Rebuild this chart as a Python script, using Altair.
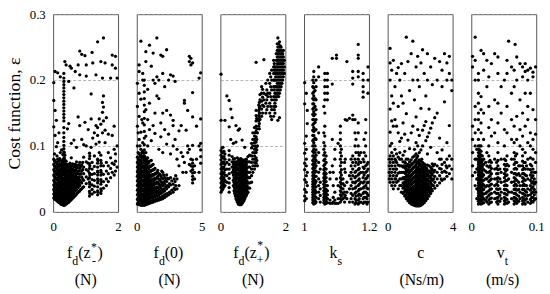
import altair as alt
import pandas as pd

FONT = "Liberation Serif, Times New Roman, serif"

# ---------------- data: (x value, [cost-function values]) ----------------
fdzm_groups = [
    (0.02, [0.021, 0.027, 0.034, 0.041, 0.048, 0.056, 0.064, 0.072, 0.08, 0.129, 0.169, 0.196]),
    (0.06, [0.019, 0.025, 0.031, 0.038, 0.045, 0.053, 0.061, 0.069, 0.077, 0.116, 0.154, 0.213]),
    (0.1, [0.018, 0.023, 0.029, 0.036, 0.043, 0.051, 0.059, 0.067, 0.075, 0.099, 0.139]),
    (0.14, [0.016, 0.021, 0.027, 0.033, 0.04, 0.048, 0.056, 0.063, 0.071, 0.08, 0.105, 0.211]),
    (0.18, [0.015, 0.02, 0.025, 0.031, 0.038, 0.045, 0.053, 0.06, 0.068, 0.077, 0.12]),
    (0.22, [0.013, 0.018, 0.023, 0.029, 0.036, 0.043, 0.05, 0.058, 0.065, 0.073, 0.09, 0.205]),
    (0.26, [0.012, 0.016, 0.021, 0.027, 0.033, 0.04, 0.047, 0.055, 0.062, 0.07, 0.078, 0.094]),
    (0.3, [0.011, 0.015, 0.019, 0.024, 0.03, 0.036, 0.043, 0.05, 0.057, 0.064, 0.071, 0.079, 0.087]),
    (0.33, [0.01, 0.013, 0.017, 0.021, 0.026, 0.031, 0.036, 0.041, 0.046, 0.051, 0.056, 0.061,
            0.066, 0.071, 0.076, 0.081, 0.086, 0.091, 0.096, 0.101, 0.107, 0.113, 0.12, 0.128,
            0.138, 0.143, 0.148, 0.153, 0.158, 0.163, 0.168, 0.173, 0.178, 0.183, 0.188, 0.193,
            0.198, 0.203, 0.21]),
    (0.36, [0.011, 0.014, 0.018, 0.023, 0.029, 0.035, 0.042, 0.049, 0.056, 0.063, 0.07, 0.078, 0.086, 0.228]),
    (0.4, [0.012, 0.016, 0.021, 0.027, 0.033, 0.04, 0.047, 0.054, 0.061, 0.069, 0.077, 0.223]),
    (0.44, [0.014, 0.018, 0.023, 0.029, 0.035, 0.042, 0.049, 0.057, 0.064, 0.072, 0.126]),
    (0.48, [0.015, 0.02, 0.026, 0.032, 0.039, 0.046, 0.053, 0.061, 0.069, 0.134, 0.198]),
    (0.52, [0.017, 0.022, 0.028, 0.035, 0.042, 0.05, 0.058, 0.066, 0.074, 0.221]),
    (0.56, [0.019, 0.025, 0.031, 0.038, 0.046, 0.054, 0.062, 0.07, 0.082, 0.104, 0.218]),
    (0.6, [0.021, 0.027, 0.034, 0.041, 0.049, 0.057, 0.065, 0.073]),
    (0.64, [0.023, 0.029, 0.036, 0.044, 0.052, 0.06, 0.068, 0.109, 0.188]),
    (0.68, [0.025, 0.032, 0.039, 0.047, 0.055, 0.063, 0.072, 0.213]),
    (0.72, [0.027, 0.034, 0.042, 0.05, 0.058, 0.067, 0.076, 0.098]),
    (0.77, [0.03, 0.037, 0.045, 0.053, 0.062, 0.071, 0.144, 0.223]),
    (0.82, [0.032, 0.04, 0.048, 0.057, 0.066, 0.075, 0.131, 0.208, 0.244]),
    (0.88, [0.035, 0.044, 0.053, 0.062, 0.071, 0.11, 0.239]),
    (0.94, [0.038, 0.048, 0.058, 0.068, 0.083, 0.102]),
    (0.98, [0.237, 0.136]),
    (1.02, [0.043, 0.053, 0.064, 0.076, 0.206, 0.223, 0.1]),
    (1.08, [0.05, 0.062, 0.074, 0.125]),
    (1.12, [0.024, 0.031, 0.038, 0.045, 0.052, 0.059, 0.066, 0.073, 0.081, 0.089]),
    (1.17, [0.141, 0.179, 0.098]),
    (1.2, [0.027, 0.034, 0.041, 0.049, 0.057, 0.065, 0.075, 0.242]),
    (1.22, [0.226, 0.112]),
    (1.27, [0.03, 0.039, 0.048, 0.058, 0.069, 0.085, 0.12]),
    (1.32, [0.208, 0.131, 0.103]),
    (1.37, [0.026, 0.032, 0.038, 0.044, 0.05, 0.056, 0.062, 0.068, 0.074, 0.08, 0.258, 0.116, 0.128]),
    (1.42, [0.141, 0.106, 0.09]),
    (1.47, [0.028, 0.035, 0.042, 0.049, 0.056, 0.063, 0.07, 0.078, 0.086, 0.228, 0.133]),
    (1.52, [0.203, 0.151, 0.166, 0.12]),
    (1.55, [0.036, 0.046, 0.057, 0.07, 0.264, 0.159, 0.176, 0.138]),
    (1.6, [0.226, 0.124, 0.105]),
    (1.64, [0.04, 0.05, 0.062, 0.075, 0.143]),
    (1.7, [0.046, 0.058, 0.07, 0.118, 0.09]),
    (1.77, [0.203, 0.052, 0.066, 0.082]),
    (1.82, [0.238, 0.223, 0.116, 0.06, 0.074]),
    (1.88, [0.056, 0.072, 0.095, 0.13]),
    (1.92, [0.236, 0.218, 0.077, 0.062, 0.088]),
    (1.97, [0.203, 0.068, 0.1]),
]
fdzm_more = [
    (0.04, [0.024, 0.031, 0.038, 0.046, 0.054, 0.062, 0.07, 0.078, 0.088]),
    (0.08, [0.02, 0.028, 0.035, 0.043, 0.051, 0.059, 0.067, 0.075]),
    (0.12, [0.017, 0.026, 0.033, 0.041, 0.049, 0.057, 0.065, 0.073, 0.085]),
    (0.16, [0.015, 0.023, 0.03, 0.037, 0.045, 0.052, 0.06, 0.069, 0.077]),
    (0.2, [0.014, 0.021, 0.028, 0.035, 0.042, 0.05, 0.057, 0.064, 0.072, 0.081]),
    (0.24, [0.012, 0.019, 0.026, 0.033, 0.04, 0.047, 0.054, 0.062, 0.07]),
    (0.28, [0.011, 0.017, 0.024, 0.031, 0.038, 0.045, 0.052, 0.06, 0.067, 0.075]),
    (0.345, [0.01, 0.016, 0.022, 0.029, 0.036, 0.043, 0.05, 0.058, 0.066, 0.074, 0.082, 0.09]),
    (0.38, [0.012, 0.017, 0.024, 0.031, 0.038, 0.045, 0.052, 0.059, 0.066, 0.073]),
    (0.42, [0.013, 0.019, 0.026, 0.033, 0.04, 0.047, 0.055, 0.063, 0.07]),
    (0.46, [0.014, 0.021, 0.028, 0.036, 0.044, 0.052, 0.06, 0.068]),
    (0.5, [0.016, 0.024, 0.031, 0.039, 0.047, 0.055, 0.063, 0.072]),
    (0.54, [0.018, 0.026, 0.034, 0.042, 0.05, 0.058, 0.066]),
    (0.58, [0.02, 0.028, 0.037, 0.045, 0.053, 0.061, 0.07]),
    (0.62, [0.022, 0.031, 0.039, 0.047, 0.056, 0.064]),
    (0.66, [0.024, 0.033, 0.042, 0.051, 0.06, 0.069]),
    (0.7, [0.026, 0.036, 0.045, 0.054, 0.063, 0.071]),
    (0.75, [0.029, 0.039, 0.049, 0.058, 0.067]),
    (0.8, [0.031, 0.042, 0.052, 0.062, 0.071]),
    (0.85, [0.034, 0.046, 0.058, 0.069]),
    (0.91, [0.037, 0.05, 0.064, 0.075]),
    (1.13, [0.028, 0.042, 0.056, 0.07, 0.085]),
    (1.38, [0.03, 0.047, 0.06, 0.078]),
    (1.48, [0.032, 0.046, 0.06, 0.074]),
]

fd0_groups = [
    (0.05, [0.012, 0.019, 0.026, 0.033, 0.04, 0.047, 0.054, 0.061, 0.068, 0.075, 0.083, 0.1, 0.13, 0.16, 0.195]),
    (0.18, [0.011, 0.017, 0.024, 0.031, 0.038, 0.045, 0.052, 0.059, 0.066, 0.073, 0.08, 0.088, 0.11, 0.145, 0.18, 0.223, 0.213]),
    (0.32, [0.01, 0.016, 0.022, 0.029, 0.036, 0.043, 0.05, 0.057, 0.064, 0.071, 0.078, 0.086, 0.095, 0.121, 0.171, 0.259]),
    (0.46, [0.01, 0.015, 0.021, 0.027, 0.034, 0.041, 0.048, 0.055, 0.062, 0.069, 0.076, 0.084, 0.092, 0.105, 0.135, 0.2, 0.21]),
    (0.58, [0.01, 0.016, 0.022, 0.028, 0.035, 0.042, 0.049, 0.056, 0.063, 0.07, 0.077, 0.085, 0.094, 0.102,
            0.112, 0.122, 0.132, 0.142, 0.152, 0.162, 0.172, 0.182, 0.192, 0.2]),
    (0.7, [0.011, 0.017, 0.023, 0.03, 0.037, 0.044, 0.051, 0.058, 0.065, 0.072, 0.08, 0.09, 0.115, 0.155, 0.228, 0.243]),
    (0.84, [0.012, 0.018, 0.025, 0.032, 0.039, 0.046, 0.053, 0.06, 0.067, 0.074, 0.082, 0.1, 0.14, 0.186]),
    (0.98, [0.013, 0.02, 0.027, 0.034, 0.041, 0.048, 0.055, 0.062, 0.069, 0.077, 0.125, 0.165, 0.253]),
    (1.12, [0.014, 0.021, 0.028, 0.035, 0.042, 0.049, 0.056, 0.063, 0.07, 0.078, 0.108, 0.221]),
    (1.26, [0.015, 0.022, 0.029, 0.036, 0.043, 0.05, 0.057, 0.064, 0.072, 0.131, 0.241, 0.2]),
    (1.4, [0.016, 0.023, 0.03, 0.037, 0.044, 0.051, 0.058, 0.066, 0.119, 0.15, 0.195]),
    (1.55, [0.017, 0.024, 0.031, 0.038, 0.045, 0.052, 0.06, 0.264, 0.176, 0.205]),
    (1.7, [0.018, 0.026, 0.034, 0.042, 0.05, 0.058, 0.172, 0.2, 0.095]),
    (1.85, [0.019, 0.028, 0.037, 0.046, 0.055, 0.238, 0.114, 0.135]),
    (2.0, [0.02, 0.03, 0.04, 0.05, 0.06, 0.236, 0.21, 0.15, 0.09]),
    (2.15, [0.022, 0.032, 0.042, 0.052, 0.19, 0.125]),
    (2.3, [0.024, 0.035, 0.046, 0.056, 0.246, 0.154, 0.103]),
    (2.45, [0.026, 0.038, 0.05, 0.118, 0.2]),
    (2.6, [0.028, 0.041, 0.052, 0.208, 0.147, 0.088]),
    (2.8, [0.03, 0.042, 0.206, 0.139, 0.131, 0.1]),
    (2.95, [0.034, 0.046, 0.198, 0.11]),
    (3.1, [0.035, 0.05, 0.095, 0.08]),
    (3.25, [0.04, 0.123, 0.07]),
    (3.42, [0.131, 0.09]),
    (3.55, [0.084, 0.06]),
    (3.67, [0.169, 0.165, 0.075]),
    (3.8, [0.124, 0.06]),
    (3.92, [0.154, 0.09, 0.1]),
    (4.05, [0.236, 0.228, 0.095, 0.072]),
    (4.17, [0.223, 0.233, 0.08, 0.07, 0.062]),
    (4.3, [0.226, 0.181, 0.144, 0.101, 0.079, 0.074, 0.069, 0.064, 0.059, 0.054, 0.049, 0.044]),
    (4.45, [0.06, 0.05, 0.07]),
    (4.6, [0.08, 0.13]),
    (4.8, [0.203, 0.1, 0.06]),
    (4.92, [0.211, 0.141, 0.104, 0.094, 0.084, 0.074]),
]
fd0_more = [
    (0.11, [0.014, 0.021, 0.028, 0.035, 0.042, 0.05, 0.057, 0.064, 0.071, 0.079, 0.09, 0.12]),
    (0.25, [0.012, 0.019, 0.026, 0.033, 0.04, 0.047, 0.054, 0.061, 0.068, 0.076, 0.084, 0.1]),
    (0.39, [0.012, 0.018, 0.025, 0.032, 0.039, 0.046, 0.053, 0.06, 0.067, 0.074, 0.082, 0.09, 0.14]),
    (0.52, [0.013, 0.019, 0.025, 0.032, 0.039, 0.046, 0.053, 0.06, 0.067, 0.074, 0.081, 0.089]),
    (0.64, [0.013, 0.02, 0.026, 0.033, 0.04, 0.047, 0.054, 0.061, 0.068, 0.075, 0.083]),
    (0.77, [0.014, 0.02, 0.027, 0.034, 0.041, 0.048, 0.055, 0.062, 0.07, 0.078]),
    (0.91, [0.015, 0.022, 0.029, 0.036, 0.043, 0.05, 0.058, 0.066, 0.074]),
    (1.05, [0.016, 0.024, 0.031, 0.038, 0.045, 0.053, 0.061, 0.069]),
    (1.19, [0.017, 0.025, 0.032, 0.04, 0.047, 0.055, 0.063, 0.071]),
    (1.33, [0.018, 0.026, 0.033, 0.041, 0.048, 0.056, 0.064]),
    (1.47, [0.019, 0.027, 0.035, 0.043, 0.05, 0.058]),
    (1.62, [0.02, 0.029, 0.037, 0.045, 0.054, 0.063]),
    (1.77, [0.022, 0.031, 0.04, 0.049, 0.057]),
    (1.92, [0.023, 0.033, 0.042, 0.052, 0.062]),
    (2.07, [0.025, 0.035, 0.045, 0.056]),
    (2.22, [0.027, 0.038, 0.048]),
    (2.37, [0.028, 0.04, 0.051]),
    (2.52, [0.03, 0.043]),
    (2.7, [0.033, 0.047]),
    (2.88, [0.036, 0.05]),
    (3.0, [0.04, 0.055]),
]

fdzp_groups = [
    (0.02, [0.03, 0.037, 0.044, 0.051, 0.058, 0.065, 0.072, 0.079, 0.086, 0.093, 0.209, 0.139]),
    (0.08, [0.035, 0.042, 0.05, 0.058, 0.066, 0.074, 0.082, 0.09, 0.098]),
    (0.14, [0.04, 0.048, 0.056, 0.064, 0.072, 0.08, 0.088, 0.139]),
    (0.2, [0.045, 0.055, 0.065, 0.075, 0.176]),
    (0.27, [0.03, 0.037, 0.044, 0.051, 0.058, 0.065, 0.072, 0.079, 0.086, 0.093, 0.129, 0.169]),
    (0.32, [0.156, 0.11]),
    (0.36, [0.06, 0.068, 0.076, 0.084, 0.143]),
    (0.4, [0.04, 0.048, 0.056, 0.064, 0.072, 0.08, 0.104]),
    (0.44, [0.028, 0.035, 0.042, 0.049, 0.057, 0.065, 0.073, 0.081]),
    (0.48, [0.02, 0.026, 0.032, 0.039, 0.046, 0.053, 0.06, 0.068, 0.076, 0.106, 0.131]),
    (0.52, [0.015, 0.02, 0.026, 0.032, 0.038, 0.045, 0.052, 0.059, 0.066, 0.074, 0.082]),
    (0.55, [0.012, 0.016, 0.021, 0.026, 0.032, 0.038, 0.044, 0.05, 0.057, 0.064, 0.071, 0.078, 0.124]),
    (0.59, [0.011, 0.014, 0.018, 0.023, 0.028, 0.034, 0.04, 0.046, 0.052, 0.059, 0.066, 0.073, 0.08, 0.126]),
    (0.63, [0.011, 0.015, 0.019, 0.024, 0.029, 0.035, 0.041, 0.047, 0.053, 0.06, 0.067, 0.074, 0.081]),
    (0.67, [0.013, 0.017, 0.022, 0.027, 0.033, 0.039, 0.045, 0.051, 0.058, 0.065, 0.072, 0.079, 0.109]),
    (0.71, [0.016, 0.021, 0.026, 0.032, 0.038, 0.044, 0.05, 0.057, 0.064, 0.071, 0.078]),
    (0.75, [0.02, 0.025, 0.031, 0.037, 0.043, 0.05, 0.057, 0.064, 0.071, 0.079, 0.098]),
    (0.8, [0.025, 0.031, 0.037, 0.044, 0.051, 0.058, 0.065, 0.072, 0.08]),
    (0.85, [0.03, 0.037, 0.044, 0.052, 0.06, 0.068, 0.076, 0.084]),
    (0.9, [0.036, 0.044, 0.052, 0.06, 0.068, 0.076, 0.086]),
    (0.96, [0.045, 0.055, 0.065, 0.075, 0.085, 0.097, 0.104]),
    (1.0, [0.06, 0.07, 0.08, 0.09, 0.1, 0.11, 0.12]),
    (1.05, [0.065, 0.075, 0.085, 0.095, 0.105, 0.115, 0.128]),
    (1.1, [0.074, 0.082, 0.09, 0.098, 0.106, 0.114, 0.122, 0.13, 0.138, 0.146, 0.154, 0.227]),
    (1.14, [0.07, 0.1, 0.12, 0.14]),
    (1.18, [0.13, 0.138, 0.146, 0.154, 0.162]),
    (1.22, [0.14, 0.15, 0.16, 0.17, 0.178]),
    (1.27, [0.145, 0.156, 0.168, 0.18, 0.19]),
    (1.34, [0.231, 0.16, 0.17, 0.18]),
    (1.4, [0.15, 0.165, 0.178, 0.195]),
    (1.46, [0.16, 0.18, 0.2, 0.175]),
    (1.52, [0.15, 0.165, 0.18, 0.195, 0.21]),
    (1.58, [0.14, 0.155, 0.17, 0.185, 0.2, 0.215]),
    (1.64, [0.145, 0.16, 0.175, 0.19, 0.2, 0.21, 0.22, 0.23]),
    (1.68, [0.15, 0.165, 0.18, 0.19, 0.2, 0.21, 0.22]),
    (1.72, [0.17, 0.18, 0.19, 0.2, 0.21, 0.22, 0.23, 0.24]),
    (1.77, [0.139, 0.18, 0.19, 0.2, 0.21, 0.22, 0.23, 0.24, 0.25, 0.264]),
    (1.82, [0.143, 0.18, 0.19, 0.2, 0.21, 0.22, 0.23, 0.24, 0.25, 0.258]),
    (1.87, [0.19, 0.2, 0.21, 0.22, 0.23, 0.24, 0.25]),
    (1.92, [0.2, 0.21, 0.22, 0.23, 0.24]),
    (1.97, [0.21, 0.22, 0.23]),
]
fdzp_more = [
    (0.05, [0.033, 0.04, 0.047, 0.054, 0.061, 0.068, 0.075, 0.083, 0.09, 0.097]),
    (0.11, [0.038, 0.045, 0.052, 0.06, 0.068, 0.076, 0.084, 0.092]),
    (0.42, [0.032, 0.038, 0.045, 0.052, 0.06, 0.068, 0.076]),
    (0.46, [0.024, 0.03, 0.036, 0.043, 0.05, 0.057, 0.064, 0.072]),
    (0.5, [0.018, 0.024, 0.03, 0.036, 0.043, 0.05, 0.057, 0.064, 0.072]),
    (0.57, [0.013, 0.018, 0.024, 0.03, 0.036, 0.042, 0.049, 0.056, 0.063, 0.07, 0.077]),
    (0.61, [0.012, 0.016, 0.021, 0.026, 0.032, 0.038, 0.044, 0.05, 0.056, 0.063, 0.07, 0.077]),
    (0.65, [0.012, 0.017, 0.022, 0.027, 0.032, 0.038, 0.044, 0.05, 0.057, 0.064, 0.071, 0.078]),
    (0.69, [0.015, 0.02, 0.025, 0.031, 0.037, 0.043, 0.049, 0.055, 0.062, 0.069, 0.076]),
    (0.73, [0.018, 0.023, 0.029, 0.035, 0.041, 0.047, 0.054, 0.061, 0.068, 0.075]),
    (0.77, [0.023, 0.028, 0.034, 0.04, 0.047, 0.054, 0.061, 0.068, 0.076]),
    (0.82, [0.028, 0.034, 0.04, 0.047, 0.054, 0.061, 0.068, 0.076]),
    (1.07, [0.07, 0.08, 0.09, 0.1, 0.11, 0.12]),
    (1.12, [0.078, 0.094, 0.11, 0.126, 0.142]),
    (1.2, [0.126, 0.134, 0.142, 0.15, 0.158, 0.166]),
    (1.3, [0.15, 0.162, 0.174, 0.186]),
    (1.43, [0.155, 0.17, 0.185]),
    (1.55, [0.145, 0.16, 0.175, 0.19, 0.205]),
    (1.66, [0.155, 0.17, 0.185, 0.2, 0.215, 0.225]),
    (1.7, [0.16, 0.175, 0.19, 0.205, 0.215]),
    (1.75, [0.175, 0.185, 0.195, 0.205, 0.215, 0.225, 0.235, 0.245, 0.255]),
    (1.795, [0.175, 0.185, 0.195, 0.205, 0.215, 0.225, 0.235, 0.245, 0.255]),
    (1.845, [0.185, 0.195, 0.205, 0.215, 0.225, 0.235, 0.245, 0.252]),
    (1.895, [0.195, 0.205, 0.215, 0.225, 0.235, 0.245]),
    (1.94, [0.205, 0.215, 0.225, 0.235, 0.245]),
]

ks_groups = [
    (1.002, [0.017, 0.024, 0.034, 0.049, 0.064, 0.074, 0.089, 0.104, 0.164, 0.196]),
    (1.01, [0.154, 0.134, 0.06, 0.04]),
    (1.03, [0.012, 0.016, 0.02, 0.024, 0.028, 0.032, 0.036, 0.04, 0.044, 0.048, 0.052, 0.056, 0.06,
            0.064, 0.068, 0.072, 0.076, 0.08, 0.085, 0.09, 0.095, 0.1, 0.105, 0.11, 0.116, 0.122,
            0.128, 0.134, 0.14, 0.146, 0.152, 0.158, 0.164, 0.17, 0.176, 0.182, 0.188, 0.196, 0.205, 0.213]),
    (1.037, [0.015, 0.022, 0.03, 0.038, 0.046, 0.054, 0.062, 0.07, 0.078, 0.086, 0.094, 0.11, 0.125, 0.14, 0.155, 0.17, 0.19, 0.2]),
    (1.045, [0.02, 0.03, 0.04, 0.05, 0.06, 0.075, 0.09, 0.12, 0.205, 0.22]),
    (1.064, [0.012, 0.016, 0.02, 0.025, 0.03, 0.035, 0.04, 0.045, 0.05, 0.055, 0.06, 0.066, 0.072,
             0.08, 0.09, 0.1, 0.115, 0.13, 0.15, 0.17, 0.18, 0.19, 0.2, 0.21]),
    (1.072, [0.014, 0.02, 0.026, 0.032, 0.04, 0.17, 0.18, 0.19, 0.2, 0.21]),
    (1.08, [0.013, 0.018, 0.05, 0.06]),
    (1.087, [0.013, 0.233, 0.194, 0.11, 0.07]),
    (1.095, [0.013, 0.018, 0.03, 0.08, 0.095]),
    (1.1, [0.013, 0.238, 0.233, 0.05]),
    (1.105, [0.013, 0.02, 0.04, 0.104]),
    (1.112, [0.015, 0.02, 0.026, 0.032, 0.038, 0.045, 0.052, 0.06, 0.07, 0.08, 0.09, 0.1, 0.11, 0.12, 0.13]),
    (1.12, [0.02, 0.027, 0.035, 0.043, 0.05]),
    (1.127, [0.025, 0.06, 0.08, 0.14]),
    (1.132, [0.228, 0.139, 0.02, 0.03, 0.045]),
    (1.14, [0.142, 0.015, 0.035, 0.055]),
    (1.15, [0.213, 0.203, 0.194, 0.147, 0.14, 0.015, 0.025, 0.035, 0.045, 0.055, 0.065, 0.075, 0.085]),
    (1.157, [0.012, 0.02, 0.028, 0.036, 0.044, 0.052, 0.06, 0.07, 0.08, 0.1, 0.12, 0.14]),
    (1.167, [0.254, 0.238, 0.233, 0.213, 0.205, 0.012, 0.018, 0.025, 0.032, 0.04, 0.048, 0.056,
             0.064, 0.072, 0.08, 0.09, 0.1, 0.12, 0.135]),
    (1.175, [0.015, 0.025, 0.035, 0.045, 0.06, 0.075, 0.09]),
    (1.182, [0.21, 0.2, 0.19, 0.182, 0.174, 0.013, 0.02, 0.028, 0.036, 0.044, 0.052, 0.06, 0.068, 0.08]),
    (1.19, [0.015, 0.022, 0.03, 0.04, 0.05, 0.06, 0.07, 0.085, 0.1, 0.12, 0.14]),
    (1.197, [0.015, 0.025, 0.035, 0.045, 0.055, 0.065, 0.075, 0.2, 0.22, 0.18]),
]
ks_more = [
    (1.007, [0.02, 0.03, 0.045, 0.055, 0.07, 0.08, 0.095, 0.115, 0.18]),
    (1.027, [0.014, 0.018, 0.022, 0.026, 0.03, 0.034, 0.038, 0.042, 0.046, 0.05, 0.055, 0.06, 0.066,
             0.072, 0.078, 0.085, 0.092, 0.1, 0.108, 0.116, 0.124, 0.132, 0.14, 0.148, 0.156, 0.164,
             0.172, 0.18, 0.19, 0.2]),
    (1.034, [0.013, 0.018, 0.023, 0.028, 0.033, 0.038, 0.043, 0.048, 0.054, 0.06, 0.067, 0.074,
             0.082, 0.09, 0.1, 0.112, 0.124, 0.136, 0.148, 0.16, 0.172, 0.184]),
    (1.05, [0.015, 0.025, 0.035, 0.045, 0.065]),
    (1.061, [0.014, 0.018, 0.022, 0.027, 0.032, 0.037, 0.042, 0.047, 0.052, 0.058, 0.064, 0.07,
             0.078, 0.086, 0.095, 0.105, 0.12, 0.16]),
    (1.068, [0.013, 0.017, 0.022, 0.028, 0.034, 0.04, 0.046, 0.052, 0.058, 0.065, 0.075, 0.085]),
    (1.09, [0.015, 0.022, 0.04, 0.06]),
    (1.115, [0.018, 0.024, 0.03, 0.036, 0.042, 0.049, 0.056, 0.064, 0.075, 0.085, 0.095]),
    (1.125, [0.015, 0.022, 0.03, 0.04, 0.065, 0.075]),
    (1.145, [0.02, 0.028, 0.04, 0.05, 0.06, 0.07, 0.08]),
    (1.16, [0.014, 0.018, 0.024, 0.03, 0.038, 0.046, 0.054, 0.062, 0.075, 0.09, 0.11]),
    (1.17, [0.014, 0.02, 0.027, 0.034, 0.042, 0.05, 0.058, 0.066, 0.076, 0.086]),
    (1.185, [0.015, 0.022, 0.03, 0.038, 0.046, 0.056, 0.066, 0.076, 0.09, 0.11]),
    (1.194, [0.012, 0.02, 0.028, 0.036, 0.044, 0.052, 0.062, 0.072]),
]

c_groups = [
    (0.15, [0.045, 0.055, 0.065, 0.075, 0.085, 0.1, 0.121, 0.156, 0.2, 0.226, 0.248]),
    (0.25, [0.04, 0.05, 0.06, 0.07, 0.08, 0.09, 0.104, 0.138, 0.176, 0.215]),
    (0.35, [0.035, 0.045, 0.055, 0.065, 0.075, 0.085, 0.13, 0.165, 0.23]),
    (0.45, [0.04, 0.05, 0.06, 0.07, 0.08, 0.095, 0.14, 0.19]),
    (0.55, [0.045, 0.055, 0.065, 0.075, 0.088, 0.13, 0.21]),
    (0.65, [0.035, 0.047, 0.059, 0.071, 0.083, 0.12, 0.16, 0.219]),
    (0.75, [0.04, 0.05, 0.06, 0.07, 0.08, 0.09, 0.107, 0.2]),
    (0.85, [0.03, 0.04, 0.05, 0.06, 0.07, 0.08, 0.112, 0.176, 0.225]),
    (0.95, [0.028, 0.036, 0.044, 0.052, 0.06, 0.068, 0.076, 0.086, 0.135, 0.165]),
    (1.05, [0.024, 0.031, 0.038, 0.045, 0.052, 0.06, 0.068, 0.076, 0.092, 0.118, 0.21]),
    (1.15, [0.02, 0.026, 0.033, 0.04, 0.047, 0.054, 0.062, 0.07, 0.08, 0.149, 0.265]),
    (1.25, [0.017, 0.022, 0.028, 0.035, 0.042, 0.049, 0.056, 0.064, 0.072, 0.08, 0.109, 0.228]),
    (1.35, [0.014, 0.019, 0.025, 0.031, 0.038, 0.045, 0.052, 0.06, 0.068, 0.076, 0.096, 0.184]),
    (1.45, [0.012, 0.017, 0.022, 0.028, 0.034, 0.041, 0.048, 0.055, 0.063, 0.071, 0.079, 0.12, 0.24]),
    (1.55, [0.011, 0.015, 0.02, 0.025, 0.031, 0.037, 0.044, 0.051, 0.058, 0.066, 0.074, 0.083, 0.259, 0.2, 0.13]),
    (1.65, [0.01, 0.013, 0.017, 0.022, 0.027, 0.033, 0.039, 0.046, 0.053, 0.06, 0.068, 0.076, 0.085, 0.095, 0.17]),
    (1.75, [0.009, 0.012, 0.016, 0.02, 0.025, 0.03, 0.036, 0.042, 0.049, 0.056, 0.063, 0.071, 0.079, 0.088, 0.105, 0.144, 0.22]),
    (1.85, [0.009, 0.012, 0.015, 0.019, 0.024, 0.029, 0.035, 0.041, 0.047, 0.054, 0.061, 0.068, 0.076, 0.085, 0.1, 0.125, 0.2, 0.236]),
    (1.95, [0.009, 0.012, 0.016, 0.02, 0.025, 0.03, 0.036, 0.042, 0.049, 0.056, 0.063, 0.071, 0.079, 0.09, 0.116, 0.19]),
    (2.05, [0.01, 0.014, 0.018, 0.023, 0.028, 0.034, 0.04, 0.047, 0.054, 0.061, 0.069, 0.077, 0.094, 0.157, 0.226]),
    (2.15, [0.012, 0.016, 0.021, 0.026, 0.032, 0.038, 0.045, 0.052, 0.059, 0.067, 0.075, 0.1, 0.124, 0.246]),
    (2.25, [0.014, 0.019, 0.024, 0.03, 0.036, 0.043, 0.05, 0.057, 0.065, 0.073, 0.131, 0.21]),
    (2.35, [0.017, 0.022, 0.028, 0.034, 0.041, 0.048, 0.055, 0.063, 0.071, 0.108, 0.137, 0.176]),
    (2.45, [0.02, 0.026, 0.033, 0.04, 0.047, 0.055, 0.063, 0.071, 0.088, 0.114, 0.2, 0.24]),
    (2.55, [0.024, 0.031, 0.038, 0.046, 0.054, 0.062, 0.07, 0.12, 0.156]),
    (2.65, [0.028, 0.036, 0.044, 0.052, 0.06, 0.068, 0.098, 0.127, 0.22]),
    (2.75, [0.032, 0.04, 0.048, 0.056, 0.064, 0.073, 0.135, 0.193]),
    (2.9, [0.036, 0.045, 0.054, 0.063, 0.072, 0.143, 0.233]),
    (3.05, [0.04, 0.05, 0.06, 0.07, 0.09, 0.15, 0.2]),
    (3.2, [0.044, 0.055, 0.066, 0.08, 0.112, 0.228]),
    (3.35, [0.048, 0.06, 0.072, 0.094, 0.19, 0.215]),
    (3.5, [0.05, 0.062, 0.075, 0.167, 0.24]),
    (3.65, [0.054, 0.067, 0.08, 0.105, 0.2, 0.226]),
    (3.8, [0.058, 0.07, 0.085, 0.131, 0.21, 0.236]),
    (3.95, [0.05, 0.065, 0.08, 0.2, 0.184]),
]
c_more = [
    (0.1, [0.05, 0.06, 0.07, 0.08]),
    (0.5, [0.05, 0.065, 0.078]),
    (1.0, [0.03, 0.04, 0.05, 0.06, 0.07]),
    (1.1, [0.026, 0.034, 0.042, 0.05, 0.058, 0.066, 0.074]),
    (1.2, [0.022, 0.03, 0.038, 0.046, 0.054, 0.062, 0.07]),
    (1.3, [0.02, 0.026, 0.032, 0.039, 0.046, 0.053, 0.06, 0.068]),
    (1.4, [0.016, 0.022, 0.028, 0.034, 0.041, 0.048, 0.055, 0.063, 0.071]),
    (1.5, [0.014, 0.019, 0.024, 0.03, 0.036, 0.043, 0.05, 0.057, 0.065, 0.073]),
    (1.6, [0.012, 0.016, 0.021, 0.026, 0.032, 0.038, 0.045, 0.052, 0.06, 0.068]),
    (1.7, [0.01, 0.014, 0.018, 0.023, 0.028, 0.034, 0.04, 0.047, 0.054, 0.062, 0.07, 0.078]),
    (1.8, [0.01, 0.013, 0.017, 0.022, 0.027, 0.032, 0.038, 0.045, 0.052, 0.059, 0.066, 0.074, 0.082]),
    (1.9, [0.01, 0.013, 0.017, 0.022, 0.027, 0.032, 0.038, 0.045, 0.052, 0.059, 0.066, 0.074]),
    (2.0, [0.011, 0.015, 0.02, 0.025, 0.031, 0.037, 0.043, 0.05, 0.057, 0.065, 0.073]),
    (2.1, [0.013, 0.018, 0.023, 0.029, 0.035, 0.041, 0.048, 0.055, 0.063, 0.071, 0.08]),
    (2.2, [0.015, 0.021, 0.027, 0.033, 0.04, 0.047, 0.054, 0.062, 0.07]),
    (2.3, [0.018, 0.024, 0.031, 0.038, 0.045, 0.052, 0.06, 0.068]),
    (2.4, [0.022, 0.029, 0.036, 0.043, 0.05, 0.058, 0.066]),
    (2.5, [0.026, 0.034, 0.042, 0.05, 0.058]),
    (2.6, [0.03, 0.038, 0.046, 0.054, 0.062]),
    (2.7, [0.034, 0.042, 0.05, 0.058, 0.066]),
    (2.82, [0.04, 0.05, 0.06, 0.07]),
    (3.3, [0.05, 0.065, 0.08]),
    (3.6, [0.06, 0.07]),
]

vt_groups = [
    (0.002, [0.055, 0.07, 0.09, 0.11, 0.13, 0.22, 0.236]),
    (0.006, [0.265, 0.04, 0.06, 0.08, 0.1, 0.12, 0.14, 0.16, 0.2, 0.23]),
    (0.011, [0.012, 0.016, 0.02, 0.024, 0.028, 0.032, 0.036, 0.04, 0.044, 0.048, 0.052, 0.056, 0.06,
             0.064, 0.068, 0.072, 0.076, 0.08, 0.085, 0.09, 0.095, 0.1, 0.11, 0.125, 0.14, 0.15,
             0.165, 0.18, 0.2, 0.21]),
    (0.015, [0.012, 0.016, 0.02, 0.025, 0.03, 0.035, 0.04, 0.045, 0.05, 0.055, 0.06, 0.065, 0.07,
             0.075, 0.08, 0.086, 0.092, 0.1, 0.12, 0.135, 0.155, 0.175, 0.245]),
    (0.019, [0.014, 0.02, 0.027, 0.034, 0.041, 0.048, 0.056, 0.064, 0.072, 0.08, 0.11, 0.15, 0.215, 0.24]),
    (0.024, [0.015, 0.022, 0.03, 0.04, 0.05, 0.06, 0.07, 0.09, 0.19, 0.23]),
    (0.027, [0.012, 0.018, 0.025, 0.032, 0.039, 0.046, 0.053, 0.06, 0.068, 0.076, 0.085, 0.1, 0.128, 0.16, 0.205]),
    (0.031, [0.015, 0.021, 0.028, 0.035, 0.042, 0.05, 0.058, 0.066, 0.075, 0.115, 0.14, 0.225]),
    (0.036, [0.02, 0.03, 0.04, 0.05, 0.065, 0.08, 0.12, 0.17, 0.24]),
    (0.041, [0.012, 0.017, 0.022, 0.028, 0.034, 0.04, 0.046, 0.052, 0.058, 0.064, 0.07, 0.078, 0.09,
             0.105, 0.135, 0.165, 0.21, 0.235]),
    (0.046, [0.02, 0.03, 0.045, 0.06, 0.08, 0.15, 0.19]),
    (0.051, [0.012, 0.017, 0.022, 0.028, 0.034, 0.04, 0.046, 0.052, 0.058, 0.065, 0.072, 0.08, 0.1, 0.125, 0.2]),
    (0.055, [0.013, 0.019, 0.026, 0.033, 0.04, 0.048, 0.056, 0.064, 0.072, 0.085, 0.12, 0.16, 0.21, 0.23]),
    (0.0575, [0.259, 0.015, 0.03, 0.05, 0.07]),
    (0.062, [0.02, 0.03, 0.045, 0.06, 0.08, 0.11, 0.14, 0.18, 0.22]),
    (0.066, [0.012, 0.017, 0.022, 0.028, 0.034, 0.04, 0.046, 0.052, 0.058, 0.065, 0.072, 0.08, 0.09,
             0.105, 0.13, 0.19, 0.215]),
    (0.0675, [0.254]),
    (0.07, [0.013, 0.019, 0.026, 0.033, 0.04, 0.048, 0.056, 0.065, 0.075, 0.088, 0.11, 0.145, 0.2, 0.235]),
    (0.075, [0.02, 0.03, 0.04, 0.055, 0.07, 0.1, 0.125, 0.17, 0.225]),
    (0.079, [0.012, 0.017, 0.022, 0.028, 0.034, 0.04, 0.046, 0.052, 0.058, 0.064, 0.07, 0.077, 0.085,
             0.095, 0.115, 0.15, 0.205, 0.22]),
    (0.083, [0.012, 0.018, 0.025, 0.032, 0.04, 0.048, 0.056, 0.065, 0.075, 0.09, 0.13, 0.18, 0.213, 0.225]),
    (0.087, [0.015, 0.025, 0.035, 0.05, 0.065, 0.08, 0.105, 0.14, 0.16, 0.2, 0.215]),
    (0.091, [0.013, 0.019, 0.026, 0.033, 0.04, 0.048, 0.056, 0.064, 0.072, 0.082, 0.1, 0.12, 0.18, 0.218]),
    (0.095, [0.015, 0.022, 0.03, 0.038, 0.046, 0.055, 0.065, 0.08, 0.095, 0.11, 0.155, 0.205, 0.212]),
    (0.099, [0.02, 0.03, 0.045, 0.06, 0.075, 0.09, 0.118, 0.14, 0.22]),
]
vt_more = [
    (0.0085, [0.02, 0.035, 0.05, 0.065, 0.08, 0.095]),
    (0.013, [0.014, 0.018, 0.022, 0.026, 0.03, 0.034, 0.038, 0.042, 0.046, 0.05, 0.054, 0.058, 0.062,
             0.066, 0.07, 0.074, 0.078, 0.083, 0.088, 0.094, 0.1]),
    (0.017, [0.013, 0.018, 0.023, 0.028, 0.033, 0.038, 0.043, 0.048, 0.053, 0.058, 0.063, 0.068,
             0.073, 0.078, 0.085]),
    (0.022, [0.018, 0.028, 0.038, 0.05, 0.062, 0.075]),
    (0.029, [0.014, 0.02, 0.027, 0.034, 0.041, 0.048, 0.055, 0.062, 0.07, 0.078]),
    (0.039, [0.015, 0.021, 0.028, 0.035, 0.042, 0.05, 0.058, 0.066, 0.075]),
    (0.044, [0.016, 0.025, 0.035, 0.05, 0.065]),
    (0.053, [0.014, 0.02, 0.027, 0.034, 0.041, 0.048, 0.055, 0.062, 0.07, 0.078]),
    (0.068, [0.015, 0.021, 0.028, 0.035, 0.042, 0.05, 0.058, 0.066, 0.075, 0.085]),
    (0.073, [0.016, 0.024, 0.034, 0.045, 0.058, 0.07]),
    (0.081, [0.014, 0.02, 0.027, 0.034, 0.042, 0.05, 0.058, 0.066, 0.075]),
    (0.085, [0.02, 0.03, 0.04, 0.055, 0.07]),
    (0.093, [0.016, 0.022, 0.029, 0.036, 0.044, 0.052, 0.06, 0.07]),
    (0.097, [0.018, 0.026, 0.034, 0.042, 0.05, 0.06]),
]

x_domains = [(0, 2), (0, 5), (0, 2), (1, 1.2), (0, 4), (0, 0.1)]
y_ticks = [0, 0.1, 0.2, 0.3]
y_title = "Cost function, ε"

# title pieces: (text, x, y, size)  -- typeset sub/superscripts
title_pieces = [
    [("f", 14, 248, 16), ("d", 19.5, 255, 12), ("(z", 25.5, 248, 16), ("*", 38.5, 241, 12),
     ("-", 39.5, 254, 12), (")", 45, 248, 16), ("(N)", 22, 275, 16)],
    [("f", 17, 248, 16), ("d", 22.5, 255, 12), ("(0)", 28.5, 248, 16), ("(N)", 22, 275, 16)],
    [("f", 13, 248, 16), ("d", 18.5, 255, 12), ("(z", 24.5, 248, 16), ("*", 37.5, 239, 12),
     ("+", 37, 254, 12), (")", 44.5, 248, 16), ("(N)", 22, 275, 16)],
    [("k", 26, 248, 16), ("s", 34, 255, 12)],
    [("c", 30, 248, 16), ("(Ns/m)", 12, 275, 16)],
    [("v", 26, 248, 16), ("t", 34, 255, 12), ("(m/s)", 15, 275, 16)],
]

PANEL_W, PANEL_H = 66, 201
one_row = pd.DataFrame({"k": [0]})


def to_frame(groups):
    xs, ys = [], []
    for gx, gys in groups:
        for gy in gys:
            xs.append(gx)
            ys.append(gy)
    return pd.DataFrame({"x": xs, "eps": ys})


def make_panel(groups, dom, pieces, first):
    df = to_frame(groups)
    if first:
        yaxis = alt.Axis(values=y_ticks, format=".1~f", grid=True, ticks=False, domain=False,
                         labelPadding=8, titlePadding=6, labelFlush=False,
                         labelFont=FONT, labelFontSize=13, titleFont=FONT, titleFontSize=18,
                         titleFontWeight="normal", labelColor="black", titleColor="black")
        ytitle = y_title
    else:
        yaxis = alt.Axis(values=y_ticks, grid=True, ticks=False, domain=False, labels=False)
        ytitle = None
    pts = alt.Chart(df).mark_circle(size=11, color="black", opacity=1).encode(
        x=alt.X("x:Q", scale=alt.Scale(domain=list(dom), nice=False, zero=False),
                axis=alt.Axis(values=list(dom), format="~g", ticks=False, domain=False, grid=False,
                              labelFlush=False, labelPadding=9, labelFont=FONT, labelFontSize=13,
                              labelColor="black"),
                title=None),
        y=alt.Y("eps:Q", scale=alt.Scale(domain=[0, 0.3], nice=False), axis=yaxis, title=ytitle),
    )
    layers = [pts]
    for text, px, py, fs in pieces:
        layers.append(
            alt.Chart(one_row).mark_text(align="left", baseline="alphabetic", font=FONT,
                                         fontSize=fs, color="black").encode(
                x=alt.value(px), y=alt.value(py), text=alt.value(text))
        )
    return alt.layer(*layers).properties(width=PANEL_W, height=PANEL_H)


all_groups = [fdzm_groups + fdzm_more, fd0_groups + fd0_more, fdzp_groups + fdzp_more,
              ks_groups + ks_more, c_groups + c_more, vt_groups + vt_more]

panels = [
    make_panel(g, d, p, i == 0)
    for i, (g, d, p) in enumerate(zip(all_groups, x_domains, title_pieces))
]

chart = alt.hconcat(*panels, spacing=19, bounds="flush").properties(
    padding={"left": 5, "top": 5, "right": 5, "bottom": 0},
    background="white",
).configure_view(
    stroke="#555555", strokeWidth=1
).configure_axis(
    labelFont=FONT, labelFontSize=13, labelColor="black",
    titleFont=FONT, titleFontSize=18, titleFontWeight="normal", titleColor="black",
    gridColor="#a0a0a0", gridDash=[3, 2], gridWidth=0.8,
)

chart.save("out.html", embed_options={"renderer": "svg", "actions": False})
